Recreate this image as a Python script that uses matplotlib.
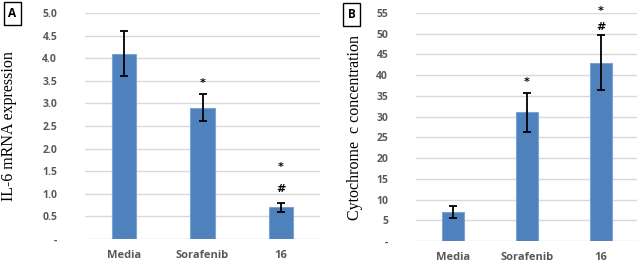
import numpy as np
import matplotlib.pyplot as plt

# данные
groups = ['Media', 'Sorafenib', '16']

il6 = [4.1, 2.9, 0.7]
il6_err = [0.5, 0.3, 0.1]
il6_ticks = [0, 0.5, 1.0, 1.5, 2.0, 2.5, 3.0, 3.5, 4.0, 4.5, 5.0]
il6_ticklabels = ['-', '0.5', '1.0', '1.5', '2.0', '2.5', '3.0', '3.5', '4.0', '4.5', '5.0']
il6_marks = [('*', 1, 3.45), ('*', 2, 1.6), ('#', 2, 1.1)]

cyto = [7.0, 31.0, 43.0]
cyto_err = [1.5, 4.7, 6.6]
cyto_ticks = [0, 5, 10, 15, 20, 25, 30, 35, 40, 45, 50, 55]
cyto_ticklabels = ['-', '5', '10', '15', '20', '25', '30', '35', '40', '45', '50', '55']
cyto_marks = [('*', 1, 38.4), ('#', 2, 51.6), ('*', 2, 55.6)]

bar_color = '#4F81BD'
edge_color = '#7AA3D6'
text_gray = '#595959'

fig = plt.figure(figsize=(6.37, 2.62), dpi=100)
ax1 = fig.add_axes([85/637, 23/262, 235/637, 226/262])
ax2 = fig.add_axes([416/637, 21/262, 222/637, 228/262])


def draw_panel(ax, vals, errs, ticks, ticklabels, marks, ylabel, label_x):
    x = np.arange(len(groups))
    ax.bar(x, vals, width=0.31, color=bar_color, edgecolor=edge_color,
           linewidth=0.8, zorder=2)
    ax.errorbar(x, vals, yerr=errs, fmt='none', ecolor='black',
                elinewidth=1.3, capsize=3.2, capthick=1.3, zorder=3)
    for sym, i, y in marks:
        ax.text(x[i], y, sym, ha='center', va='center', fontsize=8,
                fontweight='bold', color='black', clip_on=False)
    ax.set_xlim(-0.5, len(groups) - 0.5)
    ax.set_ylim(ticks[0], ticks[-1])
    ax.set_yticks(ticks)
    ax.set_yticklabels(ticklabels)
    ax.set_xticks(x)
    ax.set_xticklabels(groups)
    ax.yaxis.grid(True, color='#D9D9D9', linewidth=1.0, zorder=0)
    ax.set_axisbelow(True)
    for s in ax.spines.values():
        s.set_visible(False)
    ax.tick_params(axis='y', length=0, pad=20, labelsize=7.5, labelcolor=text_gray)
    ax.tick_params(axis='x', length=0, pad=8, labelsize=8, labelcolor=text_gray)
    for lab in ax.get_xticklabels() + ax.get_yticklabels():
        lab.set_fontweight('bold')
        lab.set_fontfamily('Open Sans')
    ax.set_ylabel(ylabel, family='Liberation Serif', fontsize=11.5, color='black')
    ax.yaxis.set_label_coords(label_x, 0.5)


draw_panel(ax1, il6, il6_err, il6_ticks, il6_ticklabels, il6_marks,
           'IL-6 mRNA expression', -0.29)
draw_panel(ax2, cyto, cyto_err, cyto_ticks, cyto_ticklabels, cyto_marks,
           'Cytochrome  c concentration', -0.24)

box = dict(boxstyle='square,pad=0.4', facecolor='white', edgecolor='black', linewidth=1.0)
fig.text(12.5/637, 1 - 13.5/262, 'A', ha='center', va='center', fontsize=8.5,
         fontweight='bold', family='Open Sans', bbox=box)
fig.text(351.5/637, 1 - 14.5/262, 'B', ha='center', va='center', fontsize=8.5,
         fontweight='bold', family='Open Sans', bbox=box)

fig.savefig('out.png', dpi=100)
